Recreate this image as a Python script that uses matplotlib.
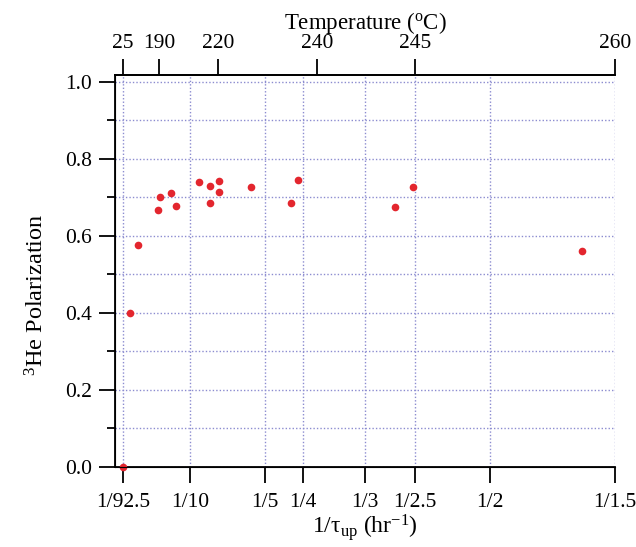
import numpy as np
import matplotlib
matplotlib.use('Agg')
from matplotlib import pyplot as plt
from matplotlib.ticker import MultipleLocator

plt.rcParams['font.family'] = ['Liberation Serif', 'DejaVu Serif']
plt.rcParams['mathtext.fontset'] = 'custom'
plt.rcParams['mathtext.rm'] = 'Liberation Serif'
plt.rcParams['mathtext.it'] = 'Liberation Serif:italic'
plt.rcParams['font.size'] = 15.5

# 数据: 1/tau_up (hr^-1) 与 3He 极化率
rate = [0.0108, 0.020, 0.0303, 0.0578, 0.0604, 0.0742, 0.0818, 0.1116, 0.1262,
        0.1262, 0.1382, 0.1387, 0.1818, 0.2347, 0.244, 0.3733, 0.3969, 0.6227]
polar = [0.0, 0.40, 0.577, 0.668, 0.701, 0.712, 0.678, 0.740, 0.731,
         0.686, 0.744, 0.714, 0.728, 0.686, 0.745, 0.674, 0.727, 0.561]

# 下轴刻度
x_ticks = [1/92.5, 1/10, 1/5, 1/4, 1/3, 1/2.5, 1/2, 1/1.5]
x_labels = ['1/92.5', '1/10', '1/5', '1/4', '1/3', '1/2.5', '1/2', '1/1.5']

# 上轴温度刻度
temp_pos = [1/92.5, 0.0587, 0.137, 0.269, 1/2.5, 1/1.5]
temp_labels = ['25', '190', '220', '240', '245', '260']

fig = plt.figure(figsize=(6.36, 5.47), dpi=100)
ax = fig.add_axes([115/636, 1 - 467/547, 500/636, (467 - 75)/547])

grid_kw = dict(color='#8c8cd0', linestyle=(0, (1, 1.5)), linewidth=1.0)
ax.set_xlim(0, 2/3)
ax.set_ylim(0, 1.018)
ax.set_xticks(x_ticks)
ax.set_xticklabels(x_labels)
ax.yaxis.set_major_locator(MultipleLocator(0.2))
ax.yaxis.set_minor_locator(MultipleLocator(0.1))
ax.yaxis.set_major_formatter(matplotlib.ticker.FormatStrFormatter('%.1f'))
ax.grid(axis='x', which='major', **grid_kw)
ax.grid(axis='y', which='both', **grid_kw)
ax.set_axisbelow(True)

ax.plot(rate, polar, 'o', color='#e3262e', ms=5.5, mec='none',
        clip_on=False, zorder=5)

ax.spines['right'].set_visible(False)
for s in ['left', 'bottom', 'top']:
    ax.spines[s].set_linewidth(1.3)
ax.tick_params(axis='both', which='major', direction='out', length=11.5,
               width=1.3, pad=5)
ax.tick_params(axis='x', which='major', pad=7)
ax.tick_params(axis='y', which='minor', direction='out', length=6, width=1.3)
ax.tick_params(axis='x', which='minor', bottom=False)

ax.set_xlabel(r'1/τ$_{\mathrm{up}}$ (hr$^{\mathrm{-1}}$)', fontsize=17,
              labelpad=0)
ax.set_ylabel(r'$^{\mathrm{3}}$He Polarization', fontsize=17.5)
ax.yaxis.set_label_coords(-0.132, (467 - 295) / 392)

ax2 = ax.twiny()
ax2.set_xlim(ax.get_xlim())
ax2.set_xticks(temp_pos)
ax2.set_xticklabels(temp_labels)
ax2.tick_params(axis='x', direction='out', length=11.5, width=1.3, pad=4)
ax2.spines['right'].set_visible(False)
ax2.spines['top'].set_linewidth(1.3)
ax2.set_xlabel(r'Temperature ($^{\mathrm{o}}$C)', fontsize=16.5, labelpad=4)

fig.savefig('out.png', dpi=100)
